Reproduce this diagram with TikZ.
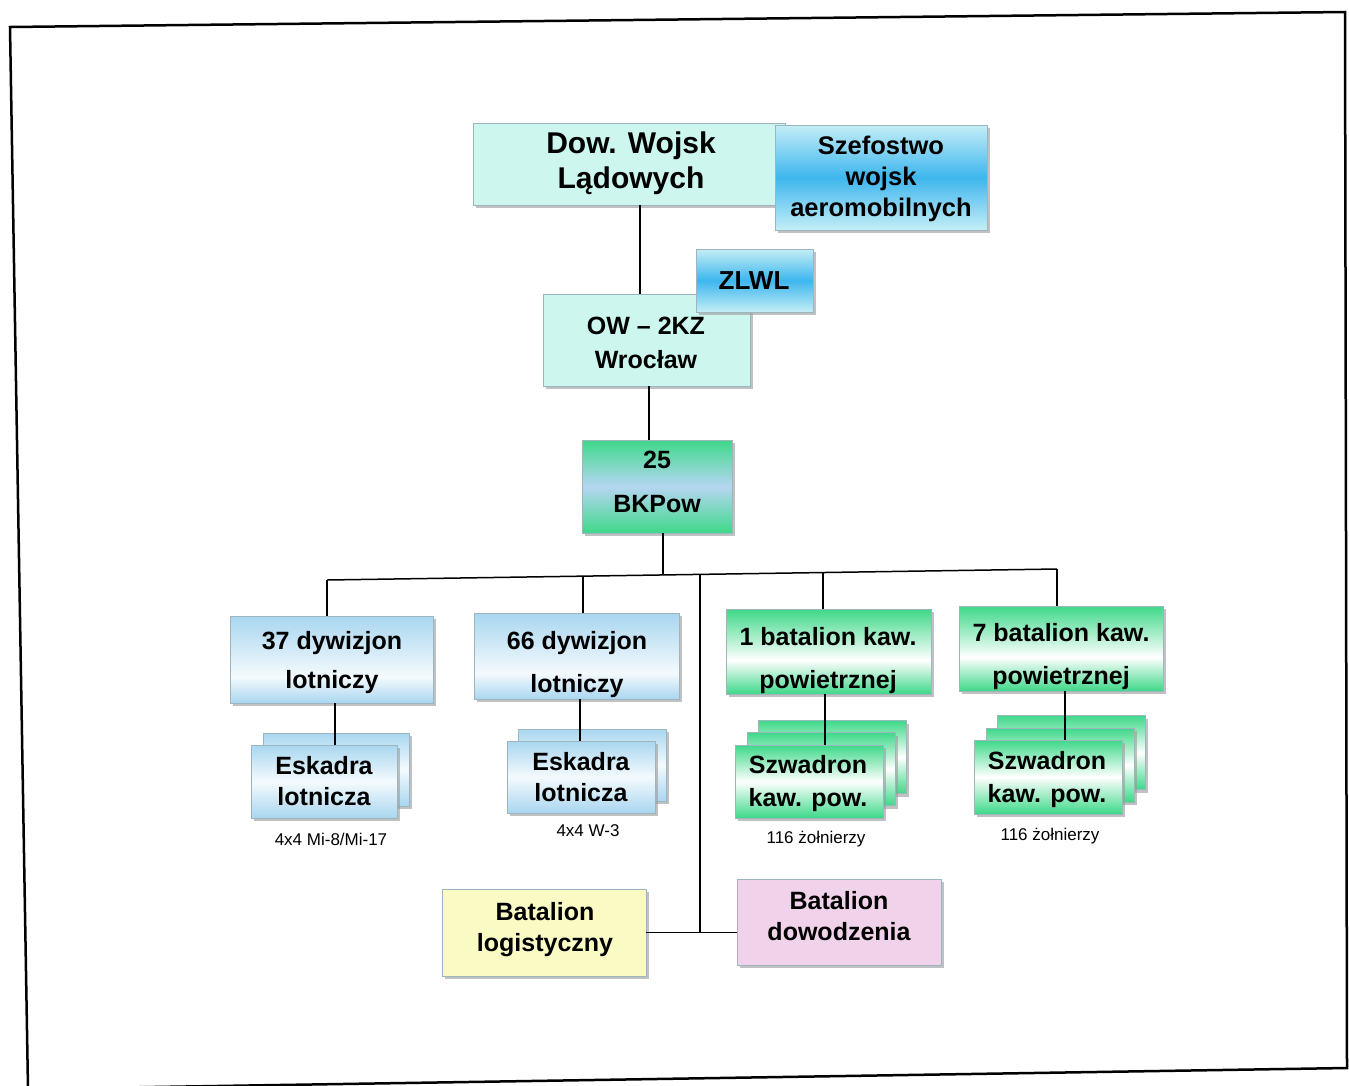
\documentclass[tikz,border=0pt]{standalone}
\usepackage{fontspec}
\setmainfont{Liberation Sans}
\usetikzlibrary{shadows}
\definecolor{aqua}{HTML}{CCF6EE}
\definecolor{skyL}{HTML}{C4EEF6}
\definecolor{skyD}{HTML}{3EB6EE}
\definecolor{grn}{HTML}{3ED889}
\definecolor{grnblue}{HTML}{B6D6F2}
\definecolor{lblue}{HTML}{A9D6F0}
\definecolor{lwhite}{HTML}{F4FAFD}
\definecolor{yel}{HTML}{FAFAC4}
\definecolor{pnk}{HTML}{F0D2EA}
\definecolor{edgec}{HTML}{9DB5BE}
\pgfdeclareverticalshading{skysh}{100bp}{color(0bp)=(skyL); color(25bp)=(skyL); color(50bp)=(skyD); color(75bp)=(skyL); color(100bp)=(skyL)}
\pgfdeclareverticalshading{bkpsh}{100bp}{color(0bp)=(grn); color(25bp)=(grn); color(50bp)=(grnblue); color(75bp)=(grn); color(100bp)=(grn)}
\pgfdeclareverticalshading{batsh}{100bp}{color(0bp)=(grn); color(25bp)=(grn); color(45bp)=(white); color(75bp)=(grn); color(100bp)=(grn)}
\pgfdeclareverticalshading{dywsh}{100bp}{color(0bp)=(lblue); color(25bp)=(lblue); color(40bp)=(lwhite); color(75bp)=(lblue); color(100bp)=(lblue)}
\pgfdeclareverticalshading{esksh}{100bp}{color(0bp)=(lblue); color(25bp)=(lblue); color(50bp)=(lwhite); color(75bp)=(lblue); color(100bp)=(lblue)}
\pgfdeclareverticalshading{szwsh}{100bp}{color(0bp)=(grn); color(25bp)=(grn); color(50bp)=(white); color(75bp)=(grn); color(100bp)=(grn)}
\tikzset{
  box/.style={draw=edgec, line width=0.7pt, inner sep=0pt,
    drop shadow={shadow xshift=3pt, shadow yshift=-3pt, fill=black!40, opacity=0.6}},
  plain/.style={box, fill=#1},
  grad/.style={box, shade, shading=#1},
  txt/.style={inner sep=0pt, align=center, yshift=-3pt, font=\fontsize{25}{#1}\selectfont\bfseries},
  conn/.style={draw=black, line width=1.5pt},
  note/.style={font=\fontsize{17}{19}\selectfont, inner sep=0pt},
  frame/.style={draw=black, line width=2.5pt}
}
\begin{document}
\begin{tikzpicture}[x=1pt,y=-1pt]
\useasboundingbox (0,0) rectangle (1349,1085);
\fill[white] (0,0) rectangle (1349,1085);
\begin{scope}
\clip (0,0) rectangle (1349,1085);
\draw[frame] (10,27) -- (1345,12) -- (1347,1068) -- (28,1089) -- cycle;
\end{scope}

% top
\node[plain=aqua, minimum width=312pt, minimum height=82pt] (dow) at (629,164) {};
\node[txt=35, font=\fontsize{30}{35}\selectfont\bfseries] (dowT) at (631,160.5) {Dow. Wojsk\\Lądowych};
\node[grad=skysh, minimum width=212pt, minimum height=105pt] (szef) at (881,177.5) {};
\node[txt=31, font=\fontsize{25.5}{31}\selectfont\bfseries] (szefT) at (881,176) {Szefostwo\\wojsk\\aeromobilnych};
\node[plain=aqua, minimum width=207pt, minimum height=92pt] (ow) at (646.5,340) {};
\node[txt=34] (owT) at (646,340) {OW -- 2KZ\\Wrocław};
\node[grad=skysh, minimum width=117pt, minimum height=63pt] (zlwl) at (754.5,280.5) {};
\node[txt=30, font=\fontsize{26}{30}\selectfont\bfseries] (zlwlT) at (754,278) {ZLWL};
\node[grad=bkpsh, minimum width=150pt, minimum height=93pt] (bk) at (657,486.5) {};
\node[txt=44] (bkT) at (657,479) {25\\BKPow};

% second level
\node[grad=dywsh, minimum width=203pt, minimum height=87pt] (d37) at (331.5,659.5) {};
\node[txt=39] (d37T) at (332,659.5) {37 dywizjon\\lotniczy};
\node[grad=dywsh, minimum width=205pt, minimum height=86pt] (d66) at (576.5,656) {};
\node[txt=43] (d66T) at (577,661.5) {66 dywizjon\\lotniczy};
\node[grad=batsh, minimum width=205pt, minimum height=85pt] (bat1) at (828.5,651.5) {};
\node[txt=43] (bat1T) at (828,657.5) {1 batalion kaw.\\powietrznej};
\node[grad=batsh, minimum width=204pt, minimum height=85pt] (bat7) at (1061,648.5) {};
\node[txt=43] (bat7T) at (1061,653.5) {7 batalion kaw.\\powietrznej};

% eskadry
\node[grad=esksh, minimum width=146pt, minimum height=73pt] (e37b) at (336,769.5) {};
\node[grad=esksh, minimum width=146pt, minimum height=73pt] (e37) at (324,781.5) {};
\node[txt=31] (e37T) at (324,778.5) {Eskadra\\lotnicza};
\node[grad=esksh, minimum width=148pt, minimum height=72pt] (e66b) at (592,765) {};
\node[grad=esksh, minimum width=148pt, minimum height=72pt] (e66) at (581,777) {};
\node[txt=31] (e66T) at (581,774.5) {Eskadra\\lotnicza};

% szwadrony
\node[grad=szwsh, minimum width=148pt, minimum height=73pt] (s1c) at (832,757) {};
\node[grad=szwsh, minimum width=148pt, minimum height=73pt] (s1b) at (821,769) {};
\node[grad=szwsh, minimum width=148pt, minimum height=73pt] (s1) at (809,781.5) {};
\node[txt=33] (s1T) at (808,780.5) {Szwadron\\kaw. pow.};
\node[grad=szwsh, minimum width=148pt, minimum height=74pt] (s7c) at (1071,752.5) {};
\node[grad=szwsh, minimum width=148pt, minimum height=74pt] (s7b) at (1060,765) {};
\node[grad=szwsh, minimum width=148pt, minimum height=74pt] (s7) at (1048,777) {};
\node[txt=33] (s7T) at (1047,777) {Szwadron\\kaw. pow.};

% notes
\node[note] (n37) at (331,839) {4x4 Mi-8/Mi-17};
\node[note] (n66) at (588,831) {4x4 W-3};
\node[note] (n1) at (816,839) {116 żołnierzy};
\node[note] (n7) at (1050,836) {116 żołnierzy};

% bottom
\node[plain=yel, minimum width=204pt, minimum height=87pt] (log) at (544,932.5) {};
\node[txt=31] (logT) at (545,926.5) {Batalion\\logistyczny};
\node[plain=pnk, minimum width=204pt, minimum height=86pt] (dowo) at (839,922) {};
\node[txt=31] (dowoT) at (839,913.5) {Batalion\\dowodzenia};

% connector coordinates
\coordinate (x1) at (640,0);
\coordinate (x2) at (649,0);
\coordinate (x3) at (663,0);
\coordinate (b37) at (327,580);
\coordinate (b66) at (583,576);
\coordinate (bbk) at (663,575);
\coordinate (bt) at (700,574.4);
\coordinate (b1) at (823,572.6);
\coordinate (b7) at (1057,569);
\coordinate (y37) at (335,0);
\coordinate (y66) at (580,0);
\coordinate (y1) at (825,0);
\coordinate (y7) at (1065,0);

\draw[conn] (dow.south -| x1) -- (ow.north -| x1);
\draw[conn] (ow.south -| x2) -- (bk.north -| x2);
\draw[conn] (bk.south -| x3) -- (bbk);
\draw[conn] (b37) -- (b7);
\draw[conn] (b37) -- (b37 |- d37.north);
\draw[conn] (b66) -- (b66 |- d66.north);
\draw[conn] (b1) -- (b1 |- bat1.north);
\draw[conn] (b7) -- (b7 |- bat7.north);
\draw[conn] (bt) -- (bt |- log.east);
\draw[conn] (log.east) -- (dowo.west |- log.east);
\draw[conn] (d37.south -| y37) -- (e37.north -| y37);
\draw[conn] (d66.south -| y66) -- (e66.north -| y66);
\draw[conn] (bat1.south -| y1) -- (s1.north -| y1);
\draw[conn] (bat7.south -| y7) -- (s7.north -| y7);
\end{tikzpicture}
\end{document}
